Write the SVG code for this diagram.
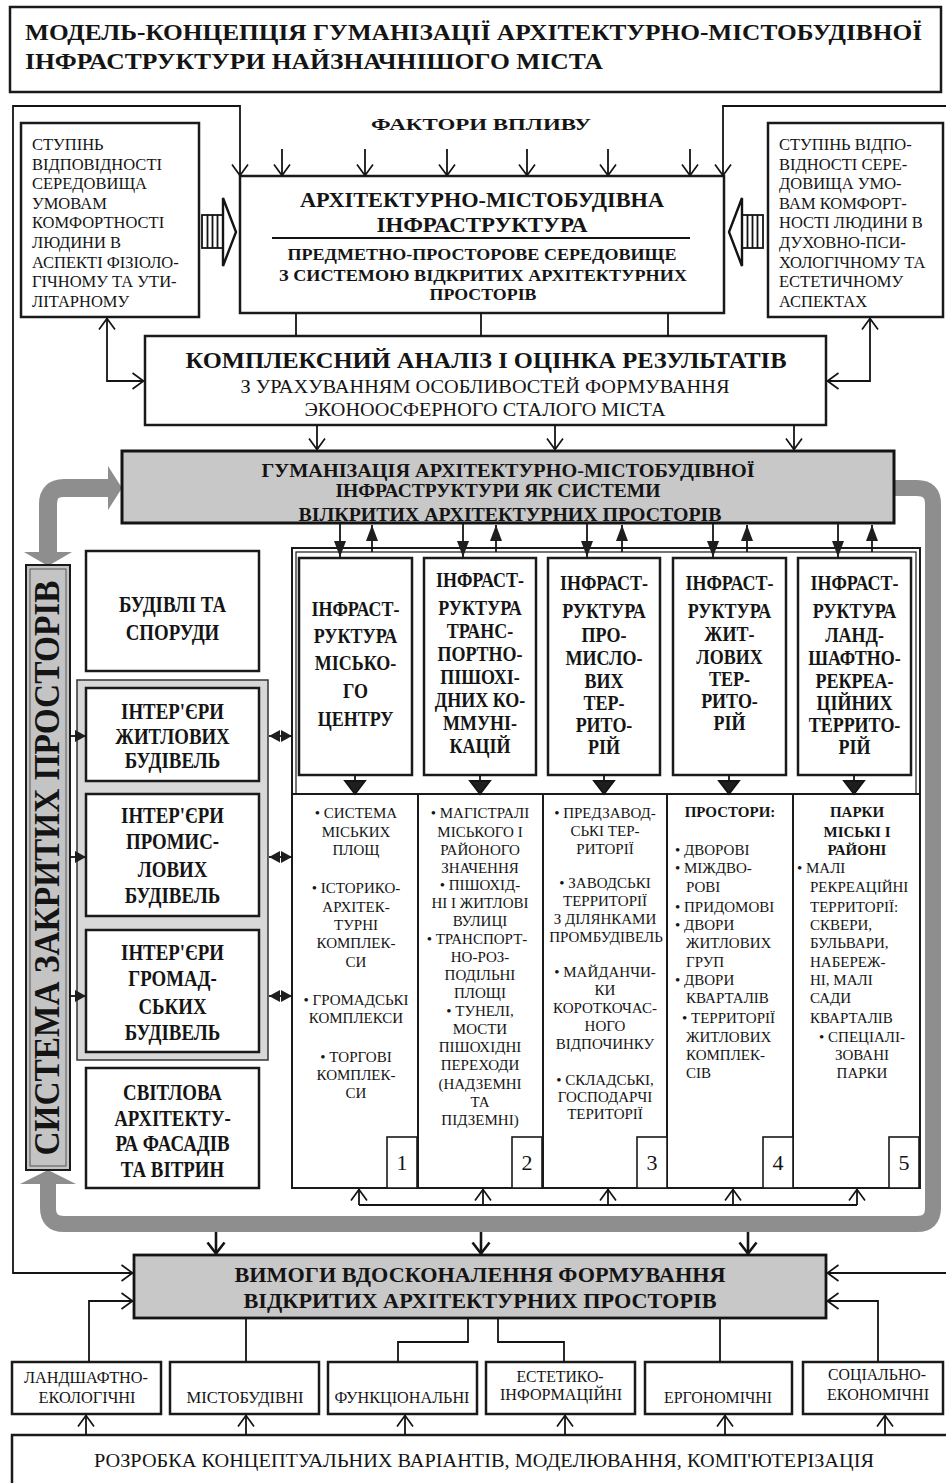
<svg xmlns="http://www.w3.org/2000/svg" width="946" height="1483" viewBox="0 0 946 1483">
<style>
.t{font-family:"Liberation Serif","Times New Roman",serif;fill:#141414}
.b{font-weight:bold}
.m{text-anchor:middle}
.box{fill:#fff;stroke:#1a1a1a;stroke-width:2.5}
.thin{fill:#fff;stroke:#1a1a1a;stroke-width:1.6}
.ln{fill:none;stroke:#141414;stroke-width:1.8}
.lnb{fill:none;stroke:#141414;stroke-width:2.6}
.gray{fill:#c8c8c8}
.band{fill:none;stroke:#8e8e8e;stroke-linejoin:round}
.bandh{fill:#8e8e8e}
.s16{font-size:16.5px}
.s15{font-size:15px}
.h20{font-size:20px}
.h23{font-size:23px}
</style>
<defs>
<marker id="v" viewBox="0 0 13 18" refX="12.5" refY="9" markerWidth="13" markerHeight="18" markerUnits="userSpaceOnUse" orient="auto-start-reverse"><path d="M1,1 L12,9 L1,17" fill="none" stroke="#141414" stroke-width="1.7"/></marker>
<marker id="vb" viewBox="0 0 14 20" refX="13" refY="10" markerWidth="14" markerHeight="20" markerUnits="userSpaceOnUse" orient="auto-start-reverse"><path d="M1.5,1.5 L12.5,10 L1.5,18.5" fill="none" stroke="#141414" stroke-width="2.6"/></marker>
<marker id="f" viewBox="0 0 16 12" refX="16" refY="6" markerWidth="16" markerHeight="12" markerUnits="userSpaceOnUse" orient="auto-start-reverse"><path d="M0,0 L16,6 L0,12 Z" fill="#1e1e1e"/></marker>
<marker id="fs" viewBox="0 0 11 12" refX="11" refY="6" markerWidth="11" markerHeight="12" markerUnits="userSpaceOnUse" orient="auto-start-reverse"><path d="M0,0 L11,6 L0,12 Z" fill="#1e1e1e"/></marker>
</defs>

<rect width="946" height="1483" fill="#fff"/>

<g id="title">
<rect x="10" y="7" width="931" height="85" class="box"/>
<text class="t b" x="25" y="40" font-size="24" textLength="897" lengthAdjust="spacingAndGlyphs">МОДЕЛЬ-КОНЦЕПЦІЯ ГУМАНІЗАЦІЇ АРХІТЕКТУРНО-МІСТОБУДІВНОЇ</text>
<text class="t b" x="25" y="69" font-size="24" textLength="578" lengthAdjust="spacingAndGlyphs">ІНФРАСТРУКТУРИ НАЙЗНАЧНІШОГО МІСТА</text>
</g>

<g id="band">
<path class="band" stroke-width="18" d="M110,488 H64 Q48,488 48,504 V554"/>
<polygon class="bandh" points="108,466 122,488 108,510"/>
<polygon class="bandh" points="24,552 72,552 48,566"/>
<path class="band" stroke-width="16" d="M48,1182 V1208 Q48,1224 64,1224 H917 Q933,1224 933,1208 V504 Q933,488 917,488 H894"/>
<polygon class="bandh" points="20,1184 76,1184 48,1170"/>
</g>

<g id="factors">
<text class="t b m" x="481" y="130" font-size="17" textLength="220" lengthAdjust="spacingAndGlyphs">ФАКТОРИ ВПЛИВУ</text>
</g>

<g id="left-comfort">
<rect x="21" y="123" width="178" height="194" class="box"/>
<g class="t s16">
<text x="32" y="150">СТУПІНЬ</text>
<text x="32" y="170">ВІДПОВІДНОСТІ</text>
<text x="32" y="189">СЕРЕДОВИЩА</text>
<text x="32" y="209">УМОВАМ</text>
<text x="32" y="228">КОМФОРТНОСТІ</text>
<text x="32" y="248">ЛЮДИНИ В</text>
<text x="32" y="268">АСПЕКТІ ФІЗІОЛО-</text>
<text x="32" y="287">ГІЧНОМУ ТА УТИ-</text>
<text x="32" y="307">ЛІТАРНОМУ</text>
</g>
</g>

<g id="right-comfort">
<rect x="768" y="123" width="175" height="194" class="box"/>
<g class="t s16">
<text x="779" y="150">СТУПІНЬ ВІДПО-</text>
<text x="779" y="170">ВІДНОСТІ СЕРЕ-</text>
<text x="779" y="189">ДОВИЩА УМО-</text>
<text x="779" y="209">ВАМ КОМФОРТ-</text>
<text x="779" y="228">НОСТІ ЛЮДИНИ В</text>
<text x="779" y="248">ДУХОВНО-ПСИ-</text>
<text x="779" y="268">ХОЛОГІЧНОМУ ТА</text>
<text x="779" y="287">ЕСТЕТИЧНОМУ</text>
<text x="779" y="307">АСПЕКТАХ</text>
</g>
</g>

<g id="striped-arrow-left" fill="#fff" stroke="#141414" stroke-width="1.8">
<rect x="202" y="215" width="21" height="33"/>
<path d="M207.5,215 V248 M212.5,215 V248 M217.5,215 V248"/>
<polygon points="223,198 236,232 223,266" stroke-width="2.4"/>
</g>
<g id="striped-arrow-right" fill="#fff" stroke="#141414" stroke-width="1.8">
<rect x="742" y="215" width="21" height="33"/>
<path d="M747.5,215 V248 M752.5,215 V248 M757.5,215 V248"/>
<polygon points="742,198 729,232 742,266" stroke-width="2.4"/>
</g>

<g id="infrastructure">
<rect x="240" y="176" width="484" height="137" class="box"/>
<text class="t b m" x="482" y="207" font-size="21" textLength="364" lengthAdjust="spacingAndGlyphs">АРХІТЕКТУРНО-МІСТОБУДІВНА</text>
<text class="t b m" x="482" y="232" font-size="21" textLength="211" lengthAdjust="spacingAndGlyphs">ІНФРАСТРУКТУРА</text>
<path d="M272,238 H690" stroke="#141414" stroke-width="2"/>
<text class="t b m" x="482" y="260" font-size="17" textLength="389" lengthAdjust="spacingAndGlyphs">ПРЕДМЕТНО-ПРОСТОРОВЕ СЕРЕДОВИЩЕ</text>
<text class="t b m" x="483" y="281" font-size="17" textLength="408" lengthAdjust="spacingAndGlyphs">З СИСТЕМОЮ ВІДКРИТИХ АРХІТЕКТУРНИХ</text>
<text class="t b m" x="483" y="300" font-size="17" textLength="107" lengthAdjust="spacingAndGlyphs">ПРОСТОРІВ</text>
</g>

<g id="analysis">
<rect x="145" y="336" width="681" height="89" class="box"/>
<text class="t b m" x="486" y="368" font-size="23" textLength="601" lengthAdjust="spacingAndGlyphs">КОМПЛЕКСНИЙ АНАЛІЗ І ОЦІНКА РЕЗУЛЬТАТІВ</text>
<text class="t m" x="485" y="393" font-size="19" textLength="489" lengthAdjust="spacingAndGlyphs">З УРАХУВАННЯМ ОСОБЛИВОСТЕЙ ФОРМУВАННЯ</text>
<text class="t m" x="485" y="416" font-size="19" textLength="361" lengthAdjust="spacingAndGlyphs">ЭКОНООСФЕРНОГО СТАЛОГО МІСТА</text>
</g>

<g id="humanization">
<rect x="122" y="451" width="772" height="72" class="gray"/>
<text class="t b m" x="508" y="477" font-size="19" textLength="493" lengthAdjust="spacingAndGlyphs">ГУМАНІЗАЦІЯ АРХІТЕКТУРНО-МІСТОБУДІВНОЇ</text>
<text class="t b m" x="498" y="497" font-size="19" textLength="325" lengthAdjust="spacingAndGlyphs">ІНФРАСТРУКТУРИ ЯК СИСТЕМИ</text>
<text class="t b m" x="510" y="521" font-size="19" textLength="423" lengthAdjust="spacingAndGlyphs">ВІЛКРИТИХ АРХІТЕКТУРНИХ ПРОСТОРІВ</text>
<rect x="122" y="451" width="772" height="72" fill="none" stroke="#141414" stroke-width="3"/>
</g>

<g id="closed-spaces">
<rect x="26" y="565" width="44" height="605" fill="#c4c4c4" stroke="#1a1a1a" stroke-width="2"/>
<rect x="30" y="569" width="36" height="597" fill="none" stroke="#555" stroke-width="1"/>
<text class="t b m" transform="translate(48 868) rotate(-90)" x="0" y="11" font-size="36" textLength="575" lengthAdjust="spacingAndGlyphs">СИСТЕМА ЗАКРИТИХ ПРОСТОРІВ</text>
</g>

<g id="buildings">
<rect x="86" y="551" width="173" height="120" class="box"/>
<g class="t b m h23" transform="translate(172.5 0) scale(0.82 1)">
<text x="0" y="612">БУДІВЛІ ТА</text>
<text x="0" y="640">СПОРУДИ</text>
</g>
</g>

<g id="interiors-frame">
<rect x="77" y="680" width="191" height="380" fill="#d8d8d8" stroke="#333" stroke-width="1.5"/>
</g>

<g id="interiors-residential">
<rect x="86" y="688" width="173" height="93" class="box"/>
<g class="t b m h23" transform="translate(172.5 0) scale(0.82 1)">
<text x="0" y="719">ІНТЕР'ЄРИ</text>
<text x="0" y="744">ЖИТЛОВИХ</text>
<text x="0" y="768">БУДІВЕЛЬ</text>
</g>
</g>

<g id="interiors-industrial">
<rect x="86" y="794" width="173" height="122" class="box"/>
<g class="t b m h23" transform="translate(172.5 0) scale(0.82 1)">
<text x="0" y="823">ІНТЕР'ЄРИ</text>
<text x="0" y="849">ПРОМИС-</text>
<text x="0" y="877">ЛОВИХ</text>
<text x="0" y="903">БУДІВЕЛЬ</text>
</g>
</g>

<g id="interiors-public">
<rect x="86" y="930" width="173" height="122" class="box"/>
<g class="t b m h23" transform="translate(172.5 0) scale(0.82 1)">
<text x="0" y="960">ІНТЕР'ЄРИ</text>
<text x="0" y="986">ГРОМАД-</text>
<text x="0" y="1014">СЬКИХ</text>
<text x="0" y="1040">БУДІВЕЛЬ</text>
</g>
</g>

<g id="lighting">
<rect x="86" y="1068" width="173" height="120" class="box"/>
<g class="t b m h23" transform="translate(172.5 0) scale(0.82 1)">
<text x="0" y="1100">СВІТЛОВА</text>
<text x="0" y="1126">АРХІТЕКТУ-</text>
<text x="0" y="1151">РА ФАСАДІВ</text>
<text x="0" y="1177">ТА ВІТРИН</text>
</g>
</g>

<g id="columns-frame" fill="none" stroke="#1a1a1a">
<rect x="292" y="548" width="628" height="640" stroke-width="2"/>
<rect x="296" y="552" width="620" height="242" stroke-width="1.2"/>
<path d="M292,794 H920 M418,794 V1188 M543,794 V1188 M667,794 V1188 M793,794 V1188" stroke-width="2"/>
</g>

<g id="col1">
<rect x="299" y="558" width="113" height="217" class="box"/>
<g class="t b m h20" transform="translate(355.5 0) scale(0.9 1)">
<text x="0" y="616">ІНФРАСТ-</text>
<text x="0" y="643">РУКТУРА</text>
<text x="0" y="670">МІСЬКО-</text>
<text x="0" y="698">ГО</text>
<text x="0" y="726">ЦЕНТРУ</text>
</g>
</g>
<g id="col2">
<rect x="424" y="558" width="112" height="217" class="box"/>
<g class="t b m h20" transform="translate(480 0) scale(0.9 1)">
<text x="0" y="587">ІНФРАСТ-</text>
<text x="0" y="615">РУКТУРА</text>
<text x="0" y="638">ТРАНС-</text>
<text x="0" y="661">ПОРТНО-</text>
<text x="0" y="684">ПІШОХІ-</text>
<text x="0" y="707">ДНИХ КО-</text>
<text x="0" y="730">ММУНІ-</text>
<text x="0" y="753">КАЦІЙ</text>
</g>
</g>
<g id="col3">
<rect x="548" y="558" width="112" height="217" class="box"/>
<g class="t b m h20" transform="translate(604 0) scale(0.9 1)">
<text x="0" y="590">ІНФРАСТ-</text>
<text x="0" y="618">РУКТУРА</text>
<text x="0" y="642">ПРО-</text>
<text x="0" y="665">МИСЛО-</text>
<text x="0" y="688">ВИХ</text>
<text x="0" y="710">ТЕР-</text>
<text x="0" y="732">РИТО-</text>
<text x="0" y="754">РІЙ</text>
</g>
</g>
<g id="col4">
<rect x="673" y="558" width="113" height="217" class="box"/>
<g class="t b m h20" transform="translate(729.5 0) scale(0.9 1)">
<text x="0" y="590">ІНФРАСТ-</text>
<text x="0" y="618">РУКТУРА</text>
<text x="0" y="641">ЖИТ-</text>
<text x="0" y="664">ЛОВИХ</text>
<text x="0" y="686">ТЕР-</text>
<text x="0" y="708">РИТО-</text>
<text x="0" y="730">РІЙ</text>
</g>
</g>
<g id="col5">
<rect x="798" y="558" width="113" height="217" class="box"/>
<g class="t b m h20" transform="translate(854.5 0) scale(0.9 1)">
<text x="0" y="590">ІНФРАСТ-</text>
<text x="0" y="618">РУКТУРА</text>
<text x="0" y="642">ЛАНД-</text>
<text x="0" y="665">ШАФТНО-</text>
<text x="0" y="688">РЕКРЕА-</text>
<text x="0" y="710">ЦІЙНИХ</text>
<text x="0" y="732">ТЕРРИТО-</text>
<text x="0" y="754">РІЙ</text>
</g>
</g>

<g id="list1" class="t s15 m">
<text x="356" y="818">• СИСТЕМА</text>
<text x="356" y="837">МІСЬКИХ</text>
<text x="356" y="855">ПЛОЩ</text>
<text x="356" y="893">• ІСТОРИКО-</text>
<text x="356" y="912">АРХІТЕК-</text>
<text x="356" y="930">ТУРНІ</text>
<text x="356" y="948">КОМПЛЕК-</text>
<text x="356" y="967">СИ</text>
<text x="356" y="1005">• ГРОМАДСЬКІ</text>
<text x="356" y="1023">КОМПЛЕКСИ</text>
<text x="356" y="1062">• ТОРГОВІ</text>
<text x="356" y="1080">КОМПЛЕК-</text>
<text x="356" y="1098">СИ</text>
<rect x="387" y="1137" width="30" height="51" class="thin"/>
<text x="402" y="1170" font-size="22">1</text>
</g>

<g id="list2" class="t s15 m">
<text x="480" y="818">• МАГІСТРАЛІ</text>
<text x="480" y="837">МІСЬКОГО І</text>
<text x="480" y="855">РАЙОНОГО</text>
<text x="480" y="873">ЗНАЧЕННЯ</text>
<text x="480" y="890">• ПІШОХІД-</text>
<text x="480" y="908">НІ І ЖИТЛОВІ</text>
<text x="480" y="926">ВУЛИЦІ</text>
<text x="477" y="944">• ТРАНСПОРТ-</text>
<text x="480" y="962">НО-РОЗ-</text>
<text x="480" y="980">ПОДІЛЬНІ</text>
<text x="480" y="998">ПЛОЩІ</text>
<text x="480" y="1016">• ТУНЕЛІ,</text>
<text x="480" y="1034">МОСТИ</text>
<text x="480" y="1052">ПІШОХІДНІ</text>
<text x="480" y="1070">ПЕРЕХОДИ</text>
<text x="480" y="1089">(НАДЗЕМНІ</text>
<text x="480" y="1107">ТА</text>
<text x="480" y="1125">ПІДЗЕМНІ)</text>
<rect x="512" y="1137" width="30" height="51" class="thin"/>
<text x="527" y="1170" font-size="22">2</text>
</g>

<g id="list3" class="t s15 m">
<text x="605" y="818">• ПРЕДЗАВОД-</text>
<text x="605" y="836">СЬКІ ТЕР-</text>
<text x="605" y="854">РИТОРІЇ</text>
<text x="605" y="888">• ЗАВОДСЬКІ</text>
<text x="605" y="906">ТЕРРИТОРІЇ</text>
<text x="605" y="924">З ДІЛЯНКАМИ</text>
<text x="606" y="942">ПРОМБУДІВЕЛЬ</text>
<text x="605" y="977">• МАЙДАНЧИ-</text>
<text x="605" y="995">КИ</text>
<text x="605" y="1013">КОРОТКОЧАС-</text>
<text x="605" y="1031">НОГО</text>
<text x="605" y="1049">ВІДПОЧИНКУ</text>
<text x="605" y="1085">• СКЛАДСЬКІ,</text>
<text x="605" y="1102">ГОСПОДАРЧІ</text>
<text x="605" y="1119">ТЕРИТОРІЇ</text>
<rect x="637" y="1137" width="30" height="51" class="thin"/>
<text x="652" y="1170" font-size="22">3</text>
</g>

<g id="list4" class="t s15">
<text class="b m" x="730" y="817">ПРОСТОРИ:</text>
<text x="675" y="855">• ДВОРОВІ</text>
<text x="675" y="873">• МІЖДВО-</text>
<text x="686" y="892">РОВІ</text>
<text x="675" y="912">• ПРИДОМОВІ</text>
<text x="675" y="930">• ДВОРИ</text>
<text x="686" y="948">ЖИТЛОВИХ</text>
<text x="686" y="967">ГРУП</text>
<text x="675" y="985">• ДВОРИ</text>
<text x="686" y="1003">КВАРТАЛІВ</text>
<text x="682" y="1023">• ТЕРРИТОРІЇ</text>
<text x="686" y="1042">ЖИТЛОВИХ</text>
<text x="686" y="1060">КОМПЛЕК-</text>
<text x="686" y="1078">СІВ</text>
<rect x="763" y="1137" width="30" height="51" class="thin"/>
<text class="m" x="778" y="1170" font-size="22">4</text>
</g>

<g id="list5" class="t s15">
<text class="b m" x="857" y="817">ПАРКИ</text>
<text class="b m" x="857" y="837">МІСЬКІ І</text>
<text class="b m" x="857" y="855">РАЙОНІ</text>
<text x="797" y="873">• МАЛІ</text>
<text x="810" y="892">РЕКРЕАЦІЙНІ</text>
<text x="810" y="912">ТЕРРИТОРІЇ:</text>
<text x="810" y="930">СКВЕРИ,</text>
<text x="810" y="948">БУЛЬВАРИ,</text>
<text x="810" y="967">НАБЕРЕЖ-</text>
<text x="810" y="985">НІ, МАЛІ</text>
<text x="810" y="1003">САДИ</text>
<text x="810" y="1023">КВАРТАЛІВ</text>
<text class="m" x="862" y="1042">• СПЕЦІАЛІ-</text>
<text class="m" x="862" y="1060">ЗОВАНІ</text>
<text class="m" x="862" y="1078">ПАРКИ</text>
<rect x="889" y="1137" width="30" height="51" class="thin"/>
<text class="m" x="904" y="1170" font-size="22">5</text>
</g>

<g id="requirements">
<rect x="134" y="1255" width="692" height="63" class="gray" stroke="#141414" stroke-width="2.8"/>
<text class="t b m" x="480" y="1282" font-size="21" textLength="491" lengthAdjust="spacingAndGlyphs">ВИМОГИ ВДОСКОНАЛЕННЯ ФОРМУВАННЯ</text>
<text class="t b m" x="480" y="1308" font-size="21" textLength="473" lengthAdjust="spacingAndGlyphs">ВІДКРИТИХ АРХІТЕКТУРНИХ ПРОСТОРІВ</text>
</g>

<g id="cat-landscape">
<rect x="12" y="1362" width="149" height="52" class="box"/>
<text class="t m" x="86" y="1383" font-size="16" textLength="124" lengthAdjust="spacingAndGlyphs">ЛАНДШАФТНО-</text>
<text class="t m" x="87" y="1403" font-size="16" textLength="97" lengthAdjust="spacingAndGlyphs">ЕКОЛОГІЧНІ</text>
</g>
<g id="cat-urban">
<rect x="170" y="1362" width="149" height="52" class="box"/>
<text class="t m" x="245" y="1403" font-size="16" textLength="117" lengthAdjust="spacingAndGlyphs">МІСТОБУДІВНІ</text>
</g>
<g id="cat-functional">
<rect x="328" y="1362" width="149" height="52" class="box"/>
<text class="t m" x="402" y="1403" font-size="16" textLength="135" lengthAdjust="spacingAndGlyphs">ФУНКЦІОНАЛЬНІ</text>
</g>
<g id="cat-aesthetic">
<rect x="486" y="1362" width="149" height="52" class="box"/>
<text class="t m" x="560" y="1382" font-size="16" textLength="87" lengthAdjust="spacingAndGlyphs">ЕСТЕТИКО-</text>
<text class="t m" x="561" y="1400" font-size="16" textLength="122" lengthAdjust="spacingAndGlyphs">ІНФОРМАЦІЙНІ</text>
</g>
<g id="cat-ergonomic">
<rect x="645" y="1362" width="147" height="52" class="box"/>
<text class="t m" x="718" y="1403" font-size="16" textLength="108" lengthAdjust="spacingAndGlyphs">ЕРГОНОМІЧНІ</text>
</g>
<g id="cat-socioeconomic">
<rect x="803" y="1362" width="140" height="52" class="box"/>
<text class="t m" x="877" y="1380" font-size="16" textLength="98" lengthAdjust="spacingAndGlyphs">СОЦІАЛЬНО-</text>
<text class="t m" x="878" y="1400" font-size="16" textLength="102" lengthAdjust="spacingAndGlyphs">ЕКОНОМІЧНІ</text>
</g>

<g id="development">
<rect x="12" y="1435" width="945" height="60" class="box"/>
<text class="t m" x="484" y="1467" font-size="19" textLength="780" lengthAdjust="spacingAndGlyphs">РОЗРОБКА КОНЦЕПТУАЛЬНИХ ВАРІАНТІВ, МОДЕЛЮВАННЯ, КОМП'ЮТЕРІЗАЦІЯ</text>
</g>

<g id="connectors">
<path class="ln" d="M240,176 V106 H13 V1273 H133" marker-start="url(#v)" marker-end="url(#v)"/>
<path class="ln" d="M723,176 V106 H950" marker-start="url(#v)"/>
<path class="ln" d="M950,1273 H827" marker-end="url(#v)"/>
<g class="ln" marker-end="url(#v)">
<path d="M282,149 V176"/><path d="M365,149 V176"/><path d="M447,149 V176"/><path d="M527,149 V176"/><path d="M608,149 V176"/><path d="M690,149 V176"/>
</g>
<path class="ln" d="M296,313 V336 M481,313 V336 M668,313 V336"/>
<path class="ln" d="M107,318 V381 H144" marker-start="url(#v)" marker-end="url(#v)"/>
<path class="ln" d="M870,318 V381 H827" marker-start="url(#v)" marker-end="url(#v)"/>
<g class="ln" marker-end="url(#v)">
<path d="M317,425 V450"/><path d="M555,425 V450"/><path d="M794,425 V450"/>
</g>
<g class="ln" marker-end="url(#f)">
<path d="M340,524 V557"/><path d="M463,524 V557"/><path d="M587,524 V557"/><path d="M713,524 V557"/><path d="M838,524 V557"/>
<path d="M372,552 V525"/><path d="M496,552 V525"/><path d="M622,552 V525"/><path d="M747,552 V525"/><path d="M872,552 V525"/>
</g>
<g fill="#1e1e1e" stroke="#141414" stroke-width="1.8">
<path d="M355,775 V782"/><polygon points="345,781 365,781 355,794"/>
<path d="M480,775 V782"/><polygon points="470,781 490,781 480,794"/>
<path d="M604,775 V782"/><polygon points="594,781 614,781 604,794"/>
<path d="M729,775 V782"/><polygon points="719,781 739,781 729,794"/>
<path d="M854,775 V782"/><polygon points="844,781 864,781 854,794"/>
</g>
<g class="ln" stroke-width="2.2" marker-end="url(#fs)">
<path d="M70,736 H86"/><path d="M70,857 H86"/><path d="M70,996 H86"/>
</g>
<g class="ln" stroke-width="2.2" marker-start="url(#fs)" marker-end="url(#fs)">
<path d="M269,736 H292"/><path d="M269,857 H292"/><path d="M269,996 H292"/>
</g>
<path class="ln" d="M359,1205 H857"/>
<g class="ln" marker-end="url(#v)">
<path d="M359,1205 V1189"/><path d="M483,1205 V1189"/><path d="M608,1205 V1189"/><path d="M733,1205 V1189"/><path d="M857,1205 V1189"/>
</g>
<g class="lnb" marker-end="url(#vb)">
<path d="M216,1232 V1254"/><path d="M481,1232 V1254"/><path d="M748,1232 V1254"/>
</g>
<path class="ln" d="M89,1362 V1301 H133" marker-end="url(#v)"/>
<path class="ln" d="M878,1362 V1301 H827" marker-end="url(#v)"/>
<path class="ln" d="M246,1319 V1362 M468,1319 V1342 H398 V1362 M498,1319 V1342 H564 V1362 M720,1319 V1362"/>
<g class="ln" marker-end="url(#v)">
<path d="M86,1435 V1415"/><path d="M246,1435 V1415"/><path d="M405,1435 V1415"/><path d="M565,1435 V1415"/><path d="M725,1435 V1415"/><path d="M885,1435 V1415"/>
</g>
</g>
</svg>
